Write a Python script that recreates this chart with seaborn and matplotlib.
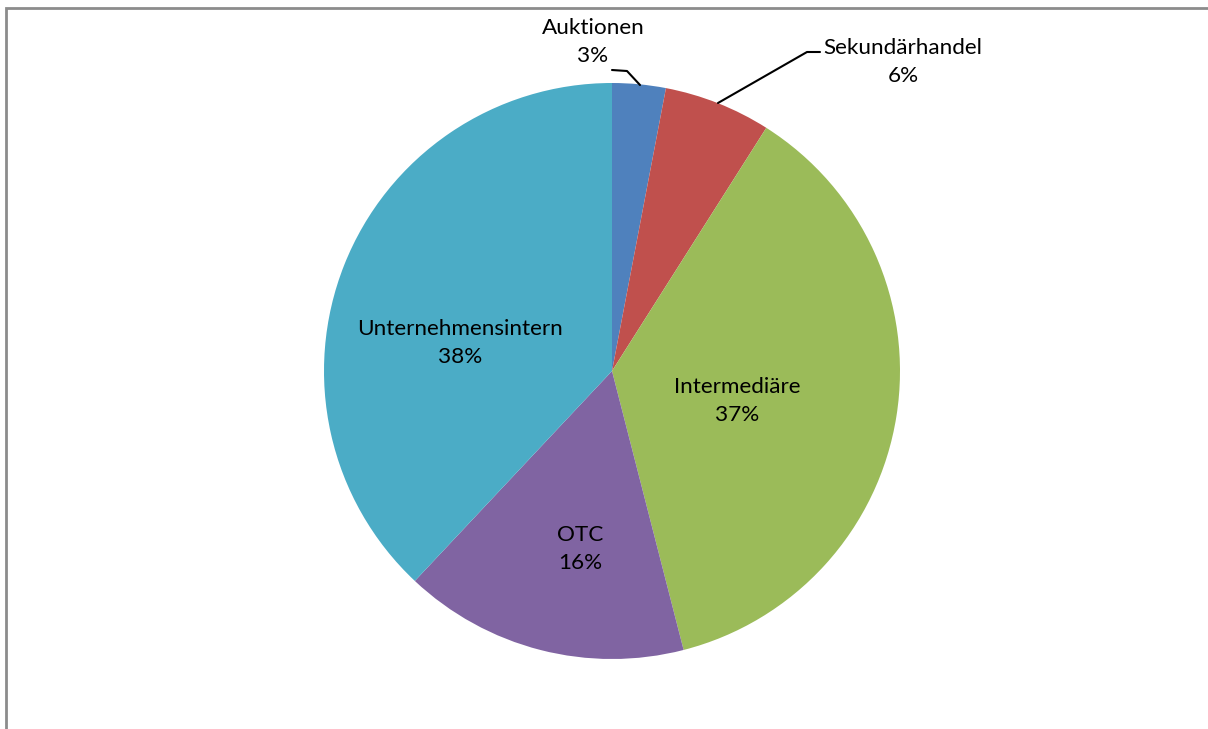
import matplotlib
matplotlib.use("Agg")
import matplotlib.pyplot as plt
import seaborn as sns

# Anteile der Handelsformen (in %)
labels = ['Auktionen', 'Sekundärhandel', 'Intermediäre', 'OTC', 'Unternehmensintern']
shares = [3, 6, 37, 16, 38]
colors = ['#4F81BD', '#C0504D', '#9BBB59', '#8064A2', '#4BACC6']

sns.set_theme(style='white')
plt.rcParams['font.family'] = ['Lato', 'DejaVu Sans']

W, H = 1208, 729
fig = plt.figure(figsize=(W / 100, H / 100), dpi=100)
ax = fig.add_axes([0, 0, 1, 1])
ax.set_xlim(0, W)
ax.set_ylim(0, H)
ax.set_aspect('equal')
ax.axis('off')


def py(y):
    # Pixel-y (von oben) -> Datenkoordinate
    return H - y


cx, cy, r = 612, 371, 288
ax.pie(shares, colors=colors, startangle=90, counterclock=False,
       radius=r, center=(cx, py(cy)), frame=False,
       wedgeprops=dict(linewidth=0))
ax.set_xlim(0, W)
ax.set_ylim(0, H)

fs = 16.2
# Beschriftungen innen
inner = {'Unternehmensintern': (460, 343), 'Intermediäre': (737, 401), 'OTC': (580, 549)}
# Beschriftungen außen
outer = {'Auktionen': (593, 42), 'Sekundärhandel': (903, 62)}
pos = {**inner, **outer}
for lab, val in zip(labels, shares):
    x, y = pos[lab]
    ax.text(x, py(y), f'{lab}\n{val}%', ha='center', va='center',
            fontsize=fs, color='black', linespacing=1.55)

# Führungslinien
ax.plot([612, 627, 640], [py(70), py(71), py(85)], color='black', lw=1.5)
ax.plot([820, 807, 718], [py(52), py(52), py(103)], color='black', lw=1.5)

# Rahmen (links und oben)
ax.plot([6, 6, W], [0, py(8), py(8)], color='#8c8c8c', lw=2,
        solid_joinstyle='miter', clip_on=False)

fig.savefig('out.png', dpi=100)
